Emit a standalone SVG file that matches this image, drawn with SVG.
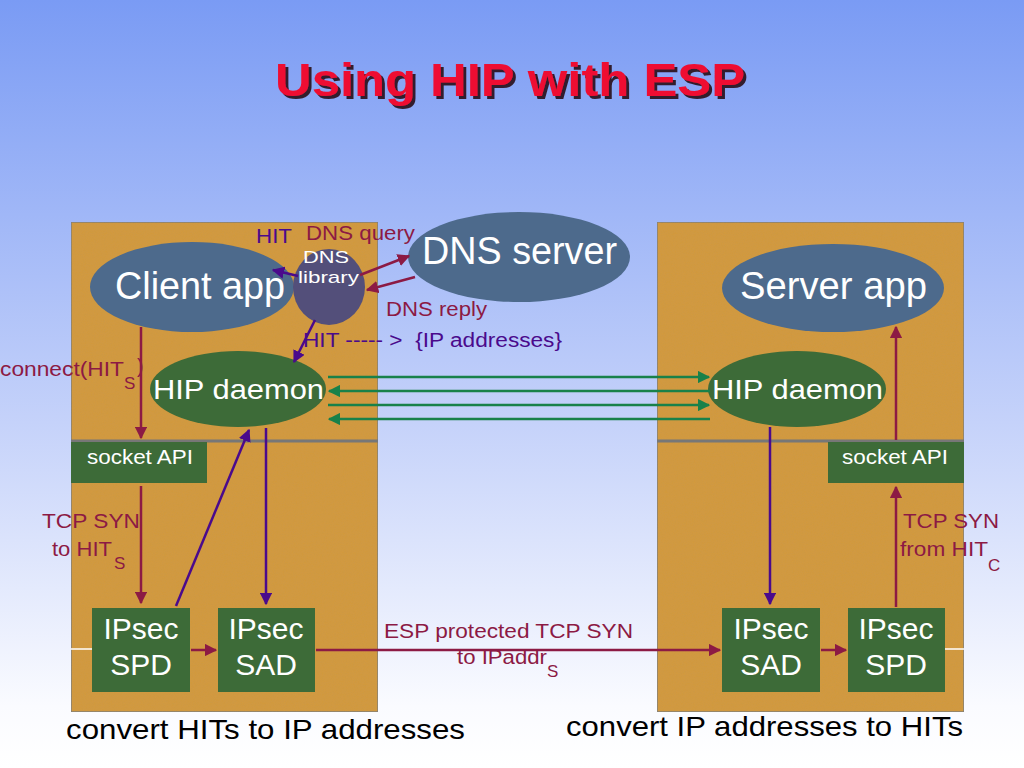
<svg xmlns="http://www.w3.org/2000/svg" width="1024" height="768" viewBox="0 0 1024 768">
<defs>
<linearGradient id="bg" x1="0" y1="0" x2="0" y2="1">
<stop offset="0" stop-color="#7a9bf4"/>
<stop offset="0.55" stop-color="#c5d2fa"/>
<stop offset="0.92" stop-color="#fafbff"/>
<stop offset="1" stop-color="#ffffff"/>
</linearGradient>
<marker id="am" viewBox="0 0 10 10" refX="9" refY="5" markerWidth="5" markerHeight="5" orient="auto"><path d="M0,0 L10,5 L0,10 z" fill="#8c1a44"/></marker>
<marker id="ap" viewBox="0 0 10 10" refX="9" refY="5" markerWidth="5" markerHeight="5" orient="auto"><path d="M0,0 L10,5 L0,10 z" fill="#4a0a8c"/></marker>
<marker id="ag" viewBox="0 0 10 10" refX="9" refY="5" markerWidth="5" markerHeight="5" orient="auto"><path d="M0,0 L10,5 L0,10 z" fill="#18814a"/></marker>
<filter id="tex" x="0" y="0" width="1" height="1">
<feTurbulence type="fractalNoise" baseFrequency="0.9" numOctaves="2" seed="3" result="n"/>
<feColorMatrix in="n" type="matrix" values="0 0 0 0 0.45  0 0 0 0 0.3  0 0 0 0 0.1  0 0 0 0.25 0" result="c"/>
<feComposite in="c" in2="SourceGraphic" operator="in" result="m"/>
<feMerge><feMergeNode in="SourceGraphic"/><feMergeNode in="m"/></feMerge>
</filter>
<filter id="sh" x="-5%" y="-20%" width="110%" height="140%">
<feDropShadow dx="3" dy="3" stdDeviation="0.6" flood-color="#2a0a18" flood-opacity="0.9"/>
</filter>
<style>
.box{fill:#d49a3e;stroke:#7d7d7d;stroke-width:1.5}
.div{stroke:#777;stroke-width:3}
.app{fill:#4d6a8c}
.grn{fill:#3d6b38}
.wt{fill:#ffffff;font-family:"Liberation Sans",Arial,sans-serif}
.mr{fill:#8c1a44;font-family:"Liberation Sans",Arial,sans-serif;font-size:20px}
.pu{fill:#4a0a8c;font-family:"Liberation Sans",Arial,sans-serif;font-size:20px}
.sub{font-size:17px}
.lm{stroke:#8c1a44;stroke-width:2.5;fill:none;marker-end:url(#am)}
.lp{stroke:#4a0a8c;stroke-width:2.5;fill:none;marker-end:url(#ap)}
.lg{stroke:#18814a;stroke-width:2.5;fill:none;marker-end:url(#ag)}
.cap{fill:#000;font-family:"Liberation Sans",Arial,sans-serif;font-size:28px}
</style>
</defs>
<rect width="1024" height="768" fill="url(#bg)"/>
<g id="title">
<text x="510" y="96" text-anchor="middle" font-family="Liberation Sans,Arial,sans-serif" font-weight="bold" font-size="46" fill="#ee1133" textLength="470" lengthAdjust="spacingAndGlyphs" filter="url(#sh)">Using HIP with ESP</text>
</g>
<g id="client-host">
<rect class="box" x="71" y="222" width="307" height="490" filter="url(#tex)"/>
<line class="div" x1="71" y1="441" x2="378" y2="441"/>
<line x1="71" y1="649" x2="92" y2="649" stroke="#fff" stroke-width="1.5"/>
</g>
<g id="server-host">
<rect class="box" x="657" y="222" width="307" height="490" filter="url(#tex)"/>
<line class="div" x1="657" y1="441" x2="964" y2="441"/>
<line x1="945" y1="649" x2="964" y2="649" stroke="#fff" stroke-width="1.5"/>
</g>
<g id="client-app">
<ellipse class="app" cx="192" cy="287" rx="102" ry="45"/>
<text class="wt" x="115" y="299" font-size="38" textLength="170" lengthAdjust="spacingAndGlyphs">Client app</text>
</g>
<g id="dns-library">
<ellipse cx="329" cy="287" rx="36" ry="38" fill="#534f7a"/>
<text class="wt" x="303" y="263" font-size="17" textLength="46" lengthAdjust="spacingAndGlyphs">DNS</text>
<text class="wt" x="298" y="283" font-size="17" textLength="61" lengthAdjust="spacingAndGlyphs">library</text>
</g>
<g id="dns-server">
<ellipse class="app" cx="519" cy="257" rx="111" ry="45"/>
<text class="wt" x="422" y="264" font-size="38" textLength="195" lengthAdjust="spacingAndGlyphs">DNS server</text>
</g>
<g id="hip-daemon-c">
<ellipse class="grn" cx="238" cy="389" rx="88" ry="38"/>
<text class="wt" x="153" y="399" font-size="28" textLength="171" lengthAdjust="spacingAndGlyphs">HIP daemon</text>
</g>
<g id="socket-api-c">
<rect class="grn" x="71" y="442" width="136" height="41"/>
<text class="wt" x="87" y="464" font-size="20" textLength="106" lengthAdjust="spacingAndGlyphs">socket API</text>
</g>
<g id="ipsec-spd-c">
<rect class="grn" x="92" y="608" width="98" height="84"/>
<text class="wt" x="141" y="639" font-size="30" text-anchor="middle">IPsec</text>
<text class="wt" x="141" y="675" font-size="30" text-anchor="middle">SPD</text>
</g>
<g id="ipsec-sad-c">
<rect class="grn" x="218" y="608" width="97" height="84"/>
<text class="wt" x="266" y="639" font-size="30" text-anchor="middle">IPsec</text>
<text class="wt" x="266" y="675" font-size="30" text-anchor="middle">SAD</text>
</g>
<g id="server-app">
<ellipse class="app" cx="833" cy="288" rx="111" ry="44"/>
<text class="wt" x="740" y="299" font-size="38" textLength="187" lengthAdjust="spacingAndGlyphs">Server app</text>
</g>
<g id="hip-daemon-s">
<ellipse class="grn" cx="797" cy="389" rx="89" ry="38"/>
<text class="wt" x="712" y="399" font-size="28" textLength="171" lengthAdjust="spacingAndGlyphs">HIP daemon</text>
</g>
<g id="socket-api-s">
<rect class="grn" x="828" y="442" width="136" height="41"/>
<text class="wt" x="842" y="464" font-size="20" textLength="106" lengthAdjust="spacingAndGlyphs">socket API</text>
</g>
<g id="ipsec-sad-s">
<rect class="grn" x="722" y="608" width="98" height="84"/>
<text class="wt" x="771" y="639" font-size="30" text-anchor="middle">IPsec</text>
<text class="wt" x="771" y="675" font-size="30" text-anchor="middle">SAD</text>
</g>
<g id="ipsec-spd-s">
<rect class="grn" x="848" y="608" width="97" height="84"/>
<text class="wt" x="896" y="639" font-size="30" text-anchor="middle">IPsec</text>
<text class="wt" x="896" y="675" font-size="30" text-anchor="middle">SPD</text>
</g>
<g id="connectors">
<line class="lp" x1="298" y1="276" x2="273" y2="270"/>
<line class="lm" x1="360" y1="275" x2="409" y2="256"/>
<line class="lm" x1="415" y1="277" x2="367" y2="290"/>
<line class="lp" x1="315" y1="320" x2="294" y2="362"/>
<line class="lm" x1="141" y1="327" x2="141" y2="438"/>
<line class="lm" x1="141" y1="486" x2="141" y2="603"/>
<line class="lm" x1="191" y1="650" x2="216" y2="650"/>
<line class="lp" x1="176" y1="606" x2="249" y2="430"/>
<line class="lp" x1="266" y1="428" x2="266" y2="604"/>
<line class="lm" x1="316" y1="650" x2="720" y2="650"/>
<line class="lg" x1="328" y1="377" x2="709" y2="377"/>
<line class="lg" x1="710" y1="391" x2="329" y2="391"/>
<line class="lg" x1="328" y1="405" x2="709" y2="405"/>
<line class="lg" x1="710" y1="419" x2="329" y2="419"/>
<line class="lp" x1="770" y1="427" x2="770" y2="604"/>
<line class="lm" x1="821" y1="650" x2="846" y2="650"/>
<line class="lm" x1="896" y1="607" x2="896" y2="487"/>
<line class="lm" x1="896" y1="440" x2="896" y2="327"/>
</g>
<g id="labels">
<text class="pu" x="256" y="243" textLength="36" lengthAdjust="spacingAndGlyphs">HIT</text>
<text class="mr" x="306" y="240" textLength="109" lengthAdjust="spacingAndGlyphs">DNS query</text>
<text class="mr" x="386" y="316" textLength="101" lengthAdjust="spacingAndGlyphs">DNS reply</text>
<text class="pu" x="303" y="347" xml:space="preserve" textLength="259" lengthAdjust="spacingAndGlyphs">HIT ----- &gt;  {IP addresses}</text>
<text class="mr" x="0" y="376" textLength="124" lengthAdjust="spacingAndGlyphs">connect(HIT</text>
<text class="mr sub" x="124" y="389">S</text>
<text class="mr" x="137" y="373">)</text>
<text class="mr" x="42" y="528" textLength="98" lengthAdjust="spacingAndGlyphs">TCP SYN</text>
<text class="mr" x="52" y="556" textLength="60" lengthAdjust="spacingAndGlyphs">to HIT</text>
<text class="mr sub" x="114" y="569">S</text>
<text class="mr" x="384" y="638" textLength="249" lengthAdjust="spacingAndGlyphs">ESP protected TCP SYN</text>
<text class="mr" x="457" y="664" textLength="90" lengthAdjust="spacingAndGlyphs">to IPaddr</text>
<text class="mr sub" x="547" y="677">S</text>
<text class="mr" x="903" y="528" textLength="96" lengthAdjust="spacingAndGlyphs">TCP SYN</text>
<text class="mr" x="900" y="556" textLength="88" lengthAdjust="spacingAndGlyphs">from HIT</text>
<text class="mr sub" x="988" y="571">C</text>
<text class="cap" x="66" y="739" textLength="399" lengthAdjust="spacingAndGlyphs">convert HITs to IP addresses</text>
<text class="cap" x="566" y="736" textLength="397" lengthAdjust="spacingAndGlyphs">convert IP addresses to HITs</text>
</g>
</svg>
